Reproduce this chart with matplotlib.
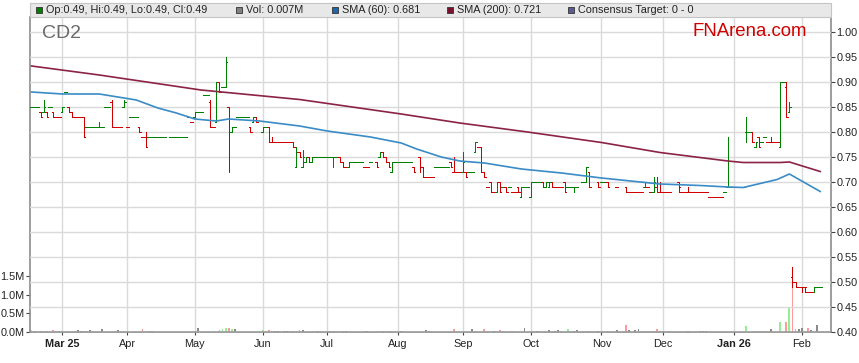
"""CD2 daily OHLC price chart with SMA(60)/SMA(200) overlays and volume, FNArena style."""

import matplotlib
matplotlib.use("Agg")
import matplotlib.pyplot as plt  # noqa: E402
import numpy as np  # noqa: E402
import pandas as pd  # noqa: E402
from matplotlib.collections import LineCollection  # noqa: E402
from matplotlib.patches import Rectangle  # noqa: E402

plt.rcParams["font.family"] = ["Liberation Sans", "DejaVu Sans"]

# --------------------------------------------------------------------------- data
START = "2025-02-17"      # first trading day of the series (one value per business day)
AXIS_END = "2026-02-13"   # last business day shown on the axis

OPEN = [
    .85, .85, .85, .84, .84, .84, .85, .84, .83, .83,
    .84, .88, .85, .84, .83, .83, .83, .83, .81, .81,
    .81, .81, .81, .81, .85, .85, .86, .81, .81, .81,
    .85, .81, .83, .83, .83, .81, .79, .79, .79, .79,
    .79, .79, .79, .79, None, .79, .79, .79, .79, .79,
    .79, .83, .82, .83, .84, .84, .875, .875, .86, .81,
    .82, .90, .89, .89, .85, .80, .81, .83, .83, .83,
    .83, .81, .82, .83, None, .80, .81, .81, .78, .78,
    .78, .78, .78, .78, .78, .78, .73, .76, .73, .74,
    .75, .74, .75, .75, .75, .75, .75, .75, .75, .75,
    .75, .74, .73, .73, .74, .74, .74, .74, .73, .73,
    .74, None, .74, .75, .76, .75, .74, .72, .74, .74,
    .74, .74, .74, .74, .73, None, .75, .73, .71, .71,
    .71, .73, .73, .73, .73, .73, .74, .72, .72, .72,
    .72, .72, .72, .72, .76, .77, .77, .72, .69, .70,
    .68, .68, .70, .69, .69, .69, .68, .68, .69, .67,
    .69, .69, .67, .70, .70, .70, .70, .69, .69, .70,
    .69, .69, .69, .70, .69, .69, .69, .69, None, .70,
    .70, .72, None, None, .70, .70, .70, .70, None, None,
    .69, None, None, .69, .68, .68, .68, .68, .68, .69,
    .69, .68, .68, .69, .68, .68, .68, .68, None, None,
    .70, .68, .68, .68, .68, .68, .68, .68, .68, .68,
    .67, .67, .67, .67, .67, .68, .69, .69, .69, .69,
    .69, .69, .80, .80, .80, .77, .79, .78, .79, .78,
    .78, .78, .78, .77, .90, .89, .84, .51, .50, .49,
    .49, .49, .48, .48, .48, .49, .49,
]
HIGH = [
    .85, .85, .85, .84, .865, .84, .85, .84, .83, .83,
    .85, .88, .85, .84, .83, .83, .83, .83, .81, .81,
    .81, .81, .82, .81, .85, .85, .865, .81, .81, .81,
    .865, .81, .83, .83, .83, .81, .79, .80, .79, .79,
    .79, .79, .79, .79, None, .79, .79, .79, .79, .79,
    .79, .83, .82, .84, .84, .84, .875, .875, .865, .81,
    .90, .90, .89, .95, .85, .81, .81, .83, .83, .83,
    .83, .81, .83, .83, None, .81, .81, .81, .79, .78,
    .78, .78, .78, .78, .78, .78, .77, .76, .765, .75,
    .75, .75, .75, .75, .75, .75, .75, .75, .75, .75,
    .75, .74, .73, .74, .74, .74, .74, .74, .73, .73,
    .74, None, .74, .76, .76, .75, .74, .74, .74, .74,
    .74, .74, .74, .74, .73, None, .75, .73, .71, .71,
    .71, .73, .73, .73, .73, .73, .74, .75, .72, .72,
    .76, .72, .72, .72, .78, .77, .77, .72, .69, .70,
    .68, .70, .70, .69, .69, .69, .68, .68, .69, .69,
    .69, .69, .70, .70, .70, .70, .70, .70, .70, .70,
    .69, .69, .69, .70, .69, .69, .69, .69, None, .70,
    .73, .72, None, None, .70, .70, .70, .70, None, None,
    .69, None, None, .69, .68, .68, .68, .68, .68, .70,
    .69, .68, .71, .71, .70, .68, .68, .68, None, None,
    .70, .68, .68, .69, .68, .68, .68, .68, .68, .68,
    .67, .67, .67, .67, .67, .68, .79, .69, .69, .69,
    .69, .69, .83, .80, .80, .78, .79, .78, .79, .78,
    .79, .78, .78, .90, .90, .90, .86, .53, .50, .49,
    .49, .49, .48, .48, .49, .49, .49,
]
LOW = [
    .85, .85, .85, .83, .84, .83, .85, .83, .83, .83,
    .84, .88, .84, .83, .83, .83, .83, .79, .81, .81,
    .81, .81, .81, .81, .85, .85, .81, .81, .81, .81,
    .85, .81, .83, .83, .83, .80, .79, .77, .79, .79,
    .79, .79, .79, .79, None, .79, .79, .79, .79, .79,
    .79, .83, .82, .83, .84, .84, .875, .875, .81, .81,
    .82, .88, .89, .89, .72, .80, .81, .83, .83, .83,
    .83, .80, .82, .82, None, .80, .81, .78, .78, .78,
    .78, .78, .78, .78, .78, .77, .73, .75, .73, .74,
    .74, .74, .75, .75, .75, .75, .75, .75, .73, .75,
    .74, .73, .73, .73, .74, .74, .74, .74, .73, .73,
    .74, None, .73, .75, .75, .74, .73, .72, .74, .74,
    .74, .74, .74, .74, .72, None, .72, .71, .71, .71,
    .71, .73, .73, .73, .73, .73, .73, .72, .72, .72,
    .72, .71, .72, .72, .76, .77, .72, .71, .69, .68,
    .68, .68, .68, .69, .68, .69, .68, .68, .68, .67,
    .69, .69, .67, .70, .70, .70, .69, .69, .69, .69,
    .69, .69, .69, .68, .69, .69, .68, .69, None, .70,
    .70, .69, None, None, .69, .70, .70, .69, None, None,
    .69, None, None, .68, .68, .68, .68, .68, .68, .69,
    .69, .68, .68, .68, .68, .68, .68, .68, None, None,
    .68, .68, .68, .68, .68, .68, .68, .68, .68, .68,
    .67, .67, .67, .67, .67, .68, .69, .69, .69, .69,
    .69, .69, .78, .80, .78, .77, .77, .78, .79, .78,
    .78, .78, .78, .77, .90, .83, .84, .49, .49, .49,
    .48, .48, .48, .48, .48, .49, .49,
]
CLOSE = [
    .85, .85, .85, .83, .85, .83, .85, .83, .83, .83,
    .85, .88, .84, .83, .83, .83, .83, .79, .81, .81,
    .81, .81, .81, .81, .85, .85, .81, .81, .81, .81,
    .86, .81, .83, .83, .83, .80, .79, .77, .79, .79,
    .79, .79, .79, .79, None, .79, .79, .79, .79, .79,
    .79, .83, .82, .84, .84, .84, .875, .875, .81, .81,
    .90, .88, .89, .94, .80, .81, .81, .83, .83, .83,
    .83, .80, .83, .82, None, .81, .81, .78, .78, .78,
    .78, .78, .78, .78, .78, .77, .76, .75, .75, .75,
    .74, .75, .75, .75, .75, .75, .75, .75, .75, .75,
    .74, .73, .73, .74, .74, .74, .74, .74, .73, .73,
    .74, None, .73, .76, .75, .74, .73, .74, .74, .74,
    .74, .74, .74, .74, .72, None, .73, .71, .71, .71,
    .71, .73, .73, .73, .73, .73, .73, .72, .72, .72,
    .74, .71, .72, .72, .78, .77, .72, .71, .69, .68,
    .68, .70, .68, .69, .68, .69, .68, .68, .68, .69,
    .69, .69, .70, .70, .70, .70, .69, .70, .70, .69,
    .69, .69, .69, .68, .69, .69, .69, .69, None, .70,
    .73, .69, None, None, .69, .70, .70, .69, None, None,
    .69, None, None, .68, .68, .68, .68, .68, .68, .70,
    .69, .68, .70, .68, .68, .68, .68, .68, None, None,
    .69, .68, .68, .68, .68, .68, .68, .68, .68, .68,
    .67, .67, .67, .67, .67, .68, .69, .69, .69, .69,
    .69, .69, .80, .80, .78, .78, .77, .78, .79, .78,
    .78, .78, .78, .90, .90, .83, .85, .50, .49, .49,
    .49, .49, .48, .48, .49, .49, .49,
]
VOLUME_M = [
    .044, .03, 0, .03, 0, .03, 0, .06, 0, .03,
    .03, 0, .03, 0, 0, .06, .03, .03, .03, .06,
    0, 0, 0, .08, 0, 0, 0, 0, .05, 0,
    .03, 0, 0, 0, 0, 0, .08, 0, .03, .03,
    0, 0, 0, 0, 0, 0, 0, 0, 0, 0,
    0, 0, 0, 0, .105, 0, 0, 0, 0, 0,
    0, .05, .07, .105, .114, .08, .08, .03, 0, 0,
    0, 0, 0, 0, 0, .044, 0, .044, 0, .03,
    .03, 0, .04, .03, 0, .03, .03, .05, .05, 0,
    0, .03, 0, .03, 0, 0, 0, .03, .03, 0,
    0, .03, .03, 0, 0, 0, 0, 0, .03, .03,
    0, 0, 0, 0, .03, 0, .03, .03, 0, 0,
    .03, 0, 0, 0, 0, 0, 0, 0, .05, .03,
    0, 0, 0, 0, 0, 0, 0, .07, 0, 0,
    0, 0, 0, .07, .03, 0, 0, .07, .03, 0,
    .03, 0, .044, .03, 0, 0, .03, 0, 0, 0,
    .10, 0, 0, 0, .03, 0, 0, 0, .044, 0,
    .03, .044, .03, 0, .07, 0, .03, .044, 0, .03,
    .03, .03, 0, 0, .03, 0, 0, .03, 0, 0,
    .044, 0, 0, .19, .05, 0, .05, .09, .03, .03,
    .03, 0, .03, .07, .03, .03, 0, .03, 0, 0,
    .03, 0, 0, .03, 0, 0, 0, .03, .03, .03,
    0, 0, 0, 0, 0, 0, 0, 0, 0, 0,
    0, 0, .15, 0, .03, .03, .03, .03, .03, .03,
    .07, 0, 0, .28, 0, .28, .66, 1.4, .08, .08,
    .10, 0, .12, .05, 0, .20, .007,
]

SMA60_DATES = ["2025-02-17", "2025-03-03", "2025-03-19", "2025-04-04", "2025-04-15",
               "2025-04-23", "2025-05-01", "2025-05-12", "2025-05-16", "2025-05-30",
               "2025-06-18", "2025-07-01", "2025-07-21", "2025-08-04", "2025-08-11",
               "2025-08-21", "2025-08-29", "2025-09-10", "2025-09-26", "2025-10-15",
               "2025-11-03", "2025-11-28", "2025-12-17", "2025-12-30", "2026-01-06",
               "2026-01-21", "2026-01-27", "2026-02-10"]
SMA60 = [.880, .876, .876, .864, .848, .838, .826, .822, .826, .822,
         .812, .802, .790, .778, .766, .750, .742, .738, .726, .718,
         .708, .696, .693, .690, .689, .705, .716, .681]

SMA200_DATES = ["2025-02-17", "2025-03-19", "2025-05-05", "2025-06-18", "2025-08-04",
                "2025-08-29", "2025-09-30", "2025-11-03", "2025-11-28", "2025-12-30",
                "2026-01-06", "2026-01-22", "2026-01-27", "2026-02-10"]
SMA200 = [.932, .914, .884, .865, .836, .818, .800, .779, .759, .742,
          .739, .739, .740, .721]

PRICE_TICKS = [0.40, 0.45, 0.50, 0.55, 0.60, 0.65, 0.70, 0.75, 0.80, 0.85, 0.90, 0.95, 1.00]
VOL_TICKS = [0.0, 0.5, 1.0, 1.5]

LEGEND = [("Op:0.49, Hi:0.49, Lo:0.49, Cl:0.49", "#008000"),
          ("Vol: 0.007M", "#808080"),
          ("SMA (60): 0.681", "#1f66a8"),
          ("SMA (200): 0.721", "#7d0f2f"),
          ("Consensus Target: 0 - 0", "#5c5c8e")]

# --------------------------------------------------------------------------- style
W, H = 859, 363
GREEN, RED = "#008000", "#d00000"
VGREEN, VRED, VGRAY = "#94ee94", "#ff9a9a", "#8a8a8a"
GRID = "#dadada"
SPINE = "#8c8c8c"
TXT = "#222222"
FS = 7.8


def fx(px):
    return px / W


def fy(py):
    return 1 - py / H


def bar_colors(o, c):
    """Price colour by open/close, falling back to the previous close for flat days."""
    price_cols, vol_cols = [], []
    prev_c, prev_col = np.nan, GREEN
    for oi, ci in zip(o, c):
        if np.isnan(ci):
            price_cols.append(None)
            vol_cols.append(VGRAY)
            continue
        if ci > oi:
            col = GREEN
        elif ci < oi:
            col = RED
        elif not np.isnan(prev_c) and ci > prev_c:
            col = GREEN
        elif not np.isnan(prev_c) and ci < prev_c:
            col = RED
        else:
            col = prev_col
        price_cols.append(col)
        if not np.isnan(prev_c) and ci == prev_c:
            vol_cols.append(VGRAY)
        else:
            vol_cols.append(VGREEN if col == GREEN else VRED)
        prev_c, prev_col = ci, col
    return price_cols, vol_cols


def main():
    o, h, l, c = (np.array(v, dtype=float) for v in (OPEN, HIGH, LOW, CLOSE))
    vol = np.array(VOLUME_M, dtype=float)
    days = pd.bdate_range(START, periods=len(c))
    axis_days = pd.bdate_range(START, AXIS_END)
    x = np.arange(len(days))
    price_cols, vol_cols = bar_colors(o, c)

    fig = plt.figure(figsize=(W / 100, H / 100), dpi=100)
    fig.patch.set_facecolor("white")
    ax_vol = fig.add_axes([fx(30), fy(332), (831 - 30) / W, (332 - 17) / H])
    ax = ax_vol.twinx()

    # volume (lower layer, left scale)
    ax_vol.bar(x, vol, width=0.6, color=vol_cols, linewidth=0, zorder=2)
    ax_vol.set_ylim(0, 8.5)
    ax_vol.set_yticks(VOL_TICKS)
    ax_vol.set_yticklabels([f"{v:.1f}M" for v in VOL_TICKS])

    # month ticks at the first business day of each month
    months = axis_days.month
    tick_pos = [i for i in range(1, len(axis_days)) if months[i] != months[i - 1]]
    labels, bold = [], []
    for k, i in enumerate(tick_pos):
        d = axis_days[i]
        if k == 0 or d.month == 1:
            labels.append(d.strftime("%b %y"))
            bold.append(True)
        else:
            labels.append(d.strftime("%b"))
            bold.append(False)
    ax_vol.set_xticks(tick_pos)
    ax_vol.set_xticklabels(labels)
    for t, b in zip(ax_vol.get_xticklabels(), bold):
        if b:
            t.set_fontweight("bold")
    ax_vol.set_xlim(-0.5, len(axis_days) - 0.5)
    ax_vol.grid(axis="x", color=GRID, lw=1.0)
    ax_vol.set_axisbelow(True)

    # price (upper layer, right scale)
    ax.set_ylim(0.40, 1.03)
    ax.set_yticks(PRICE_TICKS)
    ax.set_yticklabels([f"{p:.2f}" for p in PRICE_TICKS])
    ax.grid(axis="y", color=GRID, lw=1.0, zorder=0)
    ax.set_axisbelow(True)

    segs, cols = [], []
    for i in range(len(x)):
        if np.isnan(c[i]):
            continue
        segs += [[(x[i], l[i]), (x[i], h[i])],
                 [(x[i] - 0.5, o[i]), (x[i], o[i])],
                 [(x[i], c[i]), (x[i] + 0.5, c[i])]]
        cols += [price_cols[i]] * 3
    ax.add_collection(LineCollection(segs, colors=cols, linewidths=0.72, zorder=3,
                                     antialiased=False))

    p60 = days.get_indexer(pd.to_datetime(SMA60_DATES))
    p200 = days.get_indexer(pd.to_datetime(SMA200_DATES))
    ax.plot(p200, SMA200, color="#8b2346", lw=1.2, zorder=4)
    ax.plot(p60, SMA60, color="#3a8bc6", lw=1.2, zorder=4)

    for a in (ax, ax_vol):
        for s in a.spines.values():
            s.set_visible(False)
    for side in ("left", "bottom", "right"):
        ax_vol.spines[side].set_visible(True)
        ax_vol.spines[side].set_color(SPINE)
        ax_vol.spines[side].set_linewidth(1.2)
    ax_vol.tick_params(axis="y", length=3, width=0.8, color="#444", pad=1,
                       labelsize=FS, labelcolor=TXT)
    ax_vol.tick_params(axis="x", length=2, width=0.8, color="#444", pad=3,
                       labelsize=FS, labelcolor=TXT)
    ax.tick_params(axis="y", length=3, width=0.8, color="#444", pad=1,
                   labelsize=FS, labelcolor=TXT)

    # legend band
    fig.patches.append(Rectangle((fx(30), fy(17)), (831 - 30) / W, 14 / H,
                                 transform=fig.transFigure, facecolor="#e8e8e8",
                                 edgecolor="#c4c4c4", lw=0.8))
    item_x = [36, 236, 332, 447, 568]
    for (label, col), px in zip(LEGEND, item_x):
        fig.patches.append(Rectangle((fx(px), fy(13)), 6 / W, 6 / H,
                                     transform=fig.transFigure, facecolor=col,
                                     edgecolor="#333333", lw=0.6))
        fig.text(fx(px + 10), fy(10), label, fontsize=FS, color=TXT, va="center")

    fig.text(fx(42), fy(33), "CD2", fontsize=14, color="#6a6a6a", va="center")
    fig.text(fx(693), fy(32), "FNArena.com", fontsize=13.4, color="#d00000", va="center")

    fig.savefig("out.png", dpi=100, facecolor="white")
    plt.close(fig)


if __name__ == "__main__":
    main()
